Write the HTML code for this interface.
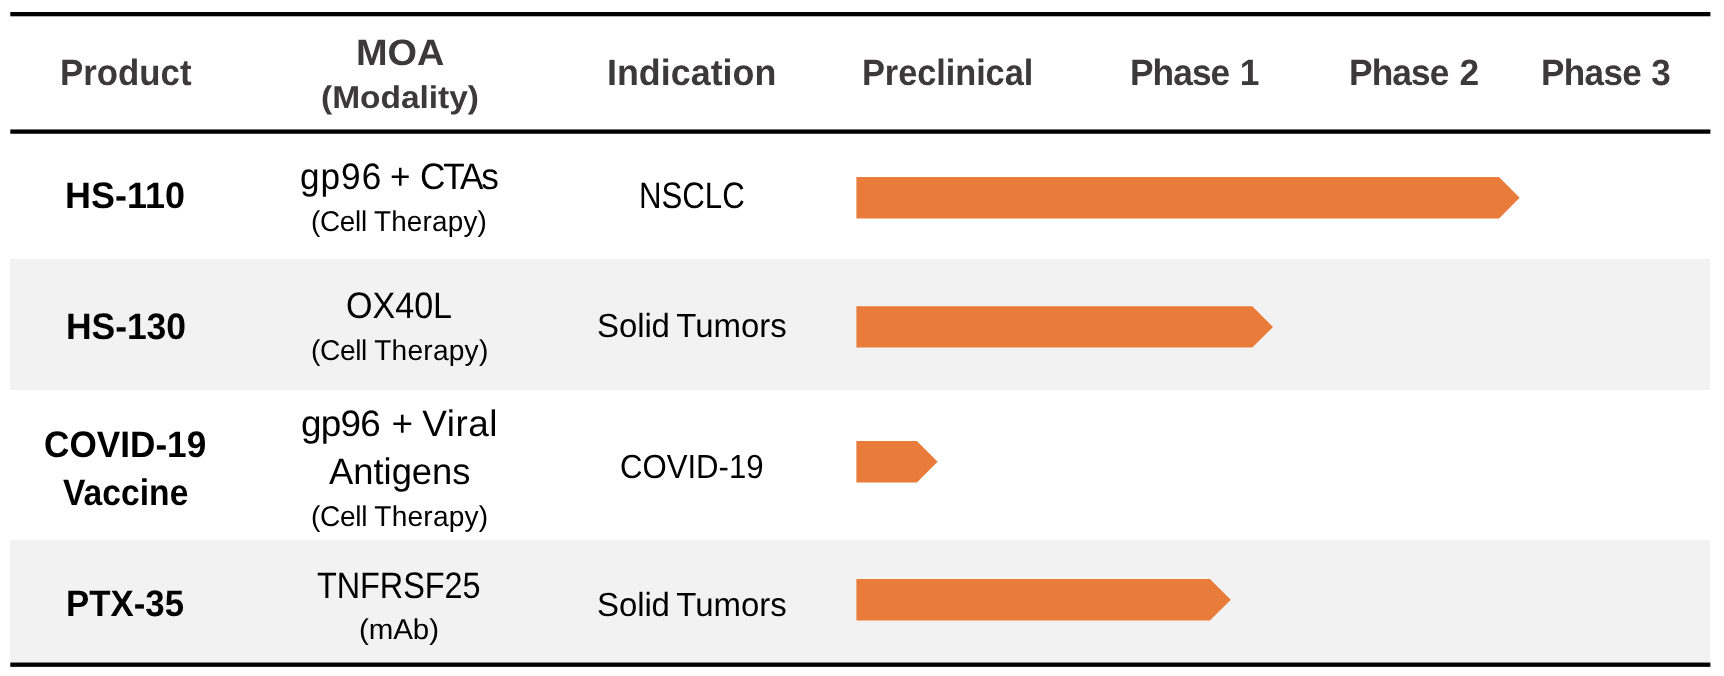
<!DOCTYPE html>
<html lang="en">
<head>
<meta charset="utf-8">
<title>Pipeline</title>
<style>
html,body{margin:0;padding:0;background:#fff;}
body{width:1724px;height:676px;position:relative;overflow:hidden;font-family:"Liberation Sans",sans-serif;text-rendering:geometricPrecision;}
.pipeline{position:absolute;left:0;top:0;width:1724px;height:676px;filter:blur(0.6px);}
.rule{position:absolute;left:10.3px;width:1700.1px;background:#000;}
.row{position:absolute;left:10.3px;width:1700.1px;}
.t{position:absolute;white-space:nowrap;line-height:1;transform-origin:0 0;margin:0;padding:0;}
.b{font-weight:700;}
.gfx{position:absolute;left:0;top:0;}
</style>
</head>
<body>
<div class="pipeline" role="table">
<div class="row" id="bg_r1" style="top:133.6px;height:125.4px;"></div>
<div class="row" id="bg_r2" style="top:259.0px;height:131.2px;background:#f2f2f2;"></div>
<div class="row" id="bg_r3" style="top:390.2px;height:150.2px;"></div>
<div class="row" id="bg_r4" style="top:540.4px;height:122.2px;background:#f2f2f2;"></div>
<div class="thead" role="row">
  <span class="t b" id="h_product" style="left:59.64px;top:55.30px;font-size:36.57px;color:#3b3939;transform:scaleX(0.9514);"><span style="letter-spacing:0.01px;">Product</span></span>
  <span class="t b" id="h_moa" style="left:355.55px;top:34.60px;font-size:36.57px;color:#3b3939;transform:scaleX(1.0375);"><span style="letter-spacing:-0.09px;">MOA</span></span>
  <span class="t b" id="h_mod" style="left:320.77px;top:82.10px;font-size:31.49px;color:#3b3939;transform:scaleX(1.0642);"><span style="letter-spacing:-0.02px;">(Modality)</span></span>
  <span class="t b" id="h_ind" style="left:607.47px;top:55.30px;font-size:36.57px;color:#3b3939;transform:scaleX(0.9798);"><span style="letter-spacing:0.02px;">Indication</span></span>
  <span class="t b" id="h_pre" style="left:862.13px;top:55.30px;font-size:36.57px;color:#3b3939;transform:scaleX(0.9393);"><span style="letter-spacing:-0.06px;">Preclinical</span></span>
  <span class="t b" id="h_p1" style="left:1130.30px;top:55.30px;font-size:36.57px;color:#3b3939;transform:scaleX(0.9653);"><span style="letter-spacing:-0.98px;">Phase</span> <span style="margin-left:0.76px;">1</span></span>
  <span class="t b" id="h_p2" style="left:1348.54px;top:55.30px;font-size:36.57px;color:#3b3939;transform:scaleX(0.9646);"><span style="letter-spacing:-0.90px;">Phase</span> <span style="margin-left:1.18px;">2</span></span>
  <span class="t b" id="h_p3" style="left:1541.42px;top:55.30px;font-size:36.57px;color:#3b3939;transform:scaleX(0.9591);"><span style="letter-spacing:-0.64px;">Phase</span> <span style="margin-left:0.21px;">3</span></span>
</div>
<div class="tr" role="row">
  <span class="t b" id="r1_p" style="left:65.13px;top:177.71px;font-size:36.87px;color:#000000;transform:scaleX(0.9746);"><span style="letter-spacing:0.01px;">HS-110</span></span>
  <span class="t" id="r1_m" style="left:299.89px;top:158.60px;font-size:36.87px;color:#000000;transform:scaleX(0.9532);"><span style="letter-spacing:1.07px;">gp96</span> <span style="margin-left:-2.03px;">+</span> <span style="letter-spacing:-2.28px;margin-left:-0.33px;">CTAs</span></span>
  <span class="t" id="r1_s" style="left:311.48px;top:207.91px;font-size:28.59px;color:#000000;transform:scaleX(0.9749);"><span style="letter-spacing:-0.30px;">(Cell</span> <span style="letter-spacing:0.21px;margin-left:-0.67px;">Therapy)</span></span>
  <span class="t" id="r1_i" style="left:639.33px;top:177.81px;font-size:36.87px;color:#000000;transform:scaleX(0.8468);"><span style="letter-spacing:-0.01px;">NSCLC</span></span>
</div>
<div class="tr" role="row">
  <span class="t b" id="r2_p" style="left:65.58px;top:309.21px;font-size:36.87px;color:#000000;transform:scaleX(0.9628);"><span style="letter-spacing:-0.08px;">HS-130</span></span>
  <span class="t" id="r2_m" style="left:345.81px;top:288.31px;font-size:36.87px;color:#000000;transform:scaleX(0.9245);"><span style="letter-spacing:-0.02px;">OX40L</span></span>
  <span class="t" id="r2_s" style="left:311.26px;top:336.81px;font-size:28.59px;color:#000000;transform:scaleX(0.9841);"><span style="letter-spacing:-0.40px;">(Cell</span> <span style="letter-spacing:0.23px;margin-left:-0.54px;">Therapy)</span></span>
  <span class="t" id="r2_i" style="left:596.70px;top:310.21px;font-size:33.38px;color:#000000;transform:scaleX(0.9872);"><span style="letter-spacing:-0.08px;">Solid</span> <span style="letter-spacing:0.01px;margin-left:-2.81px;">Tumors</span></span>
</div>
<div class="tr" role="row">
  <span class="t b" id="r3_p1" style="left:43.70px;top:426.90px;font-size:36.87px;color:#000000;transform:scaleX(0.9541);">COVID-19</span>
  <span class="t b" id="r3_p2" style="left:62.61px;top:474.71px;font-size:36.87px;color:#000000;transform:scaleX(0.9115);"><span style="letter-spacing:0.03px;">Vaccine</span></span>
  <span class="t" id="r3_m1" style="left:300.97px;top:405.71px;font-size:36.87px;color:#000000;transform:scaleX(1.0007);"><span style="letter-spacing:-0.74px;">gp96</span> <span style="margin-left:1.04px;">+</span> <span style="letter-spacing:0.50px;margin-left:-0.83px;">Viral</span></span>
  <span class="t" id="r3_m2" style="left:329.23px;top:454.01px;font-size:36.87px;color:#000000;transform:scaleX(0.9868);"><span style="letter-spacing:-0.01px;">Antigens</span></span>
  <span class="t" id="r3_s" style="left:311.22px;top:503.00px;font-size:28.59px;color:#000000;transform:scaleX(0.9834);"><span style="letter-spacing:-0.35px;">(Cell</span> <span style="letter-spacing:0.20px;margin-left:-0.54px;">Therapy)</span></span>
  <span class="t" id="r3_i" style="left:619.78px;top:450.90px;font-size:33.38px;color:#000000;transform:scaleX(0.9337);"><span style="letter-spacing:-0.02px;">COVID-19</span></span>
</div>
<div class="tr" role="row">
  <span class="t b" id="r4_p" style="left:65.88px;top:586.40px;font-size:36.87px;color:#000000;transform:scaleX(0.9438);"><span style="letter-spacing:0.01px;">PTX-35</span></span>
  <span class="t" id="r4_m" style="left:316.80px;top:567.51px;font-size:36.87px;color:#000000;transform:scaleX(0.8790);"><span style="letter-spacing:-0.04px;">TNFRSF25</span></span>
  <span class="t" id="r4_s" style="left:358.77px;top:616.21px;font-size:28.59px;color:#000000;transform:scaleX(1.0322);"><span style="letter-spacing:-0.07px;">(mAb)</span></span>
  <span class="t" id="r4_i" style="left:596.70px;top:589.40px;font-size:33.38px;color:#000000;transform:scaleX(0.9872);"><span style="letter-spacing:-0.08px;">Solid</span> <span style="letter-spacing:0.01px;margin-left:-2.81px;">Tumors</span></span>
</div>
<svg class="gfx" width="1724" height="676" viewBox="0 0 1724 676" aria-hidden="true">
  <polygon class="arrow" fill="#ea7c3b" points="856.4,177.0 1499.0,177.0 1519.7,197.70 1499.0,218.4 856.4,218.4"/>
  <polygon class="arrow" fill="#ea7c3b" points="856.4,306.2 1252.3,306.2 1273.0,326.90 1252.3,347.6 856.4,347.6"/>
  <polygon class="arrow" fill="#ea7c3b" points="856.4,441.0 916.9,441.0 937.6,461.70 916.9,482.4 856.4,482.4"/>
  <polygon class="arrow" fill="#ea7c3b" points="856.4,578.9 1209.9,578.9 1230.8,599.75 1209.9,620.6 856.4,620.6"/>
  <rect x="10.3" y="12.0" width="1700.1" height="4.3" fill="#000"/>
  <rect x="10.3" y="129.45" width="1700.1" height="4.3" fill="#000"/>
  <rect x="10.3" y="662.55" width="1700.1" height="4.3" fill="#000"/>
</svg>
</div>
</body>
</html>
